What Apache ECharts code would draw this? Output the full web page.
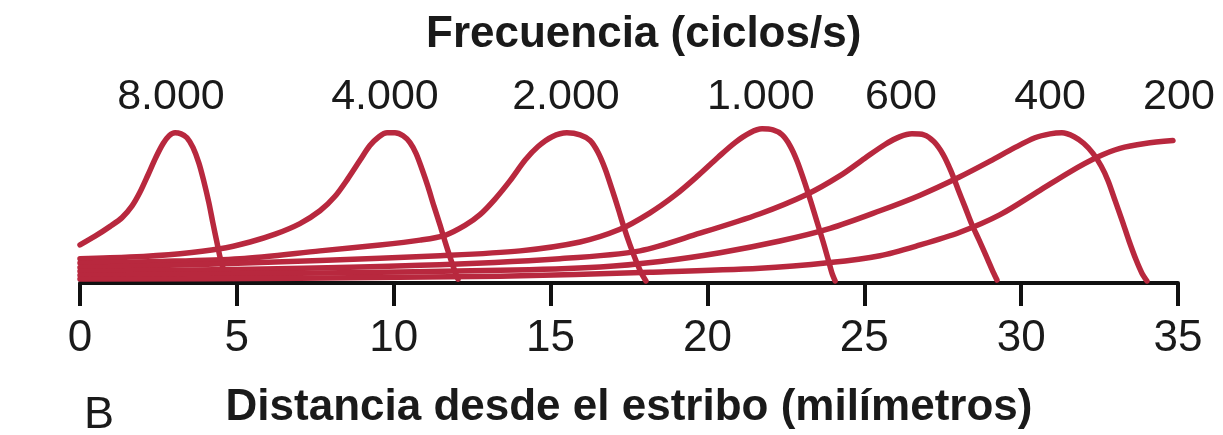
<!DOCTYPE html>
<html>
<head>
<meta charset="utf-8">
<script src="https://cdn.jsdelivr.net/npm/echarts@6/dist/echarts.min.js"></script>
<style>
html,body{margin:0;padding:0;background:#fff;}
#chart{width:1223px;height:435px;}
</style>
</head>
<body>
<div id="chart"></div>
<script>
// x = distance from stapes (mm), y = relative vibration amplitude
const curve8000 = [[0,24.4],[0.48,30],[0.96,36.3],[1.34,41.9],[1.66,49.4],[1.91,58.1],[2.17,69.4],[2.42,80.6],[2.65,89.4],[2.84,94.4],[3.03,96.3],[3.22,95.6],[3.41,93.1],[3.60,86.9],[3.79,76.9],[3.95,65],[4.11,51.3],[4.24,38.1],[4.37,25.6],[4.46,16.9],[4.56,9.4],[4.65,3.1]];
const curve4000 = [[0,15.6],[1.59,16.6],[3.19,18.8],[4.46,21.9],[5.42,26.3],[6.22,31.3],[7.01,38.1],[7.65,46.3],[8.13,55.6],[8.54,66.9],[8.93,78.8],[9.24,88.1],[9.53,93.8],[9.79,96.3],[10.04,96.3],[10.3,94.4],[10.52,90],[10.71,83.1],[10.9,73.1],[11.09,61.9],[11.28,49.4],[11.48,36.9],[11.64,26.3],[11.79,16.9],[11.95,7.5],[12.05,2.5]];
const curve2000 = [[0,12.8],[2.55,13.8],[5.1,15.6],[7.65,20.6],[9.56,24.4],[10.84,27.5],[11.64,30.6],[12.27,36.9],[12.75,43.8],[13.23,53.8],[13.71,65.6],[14.19,78.8],[14.6,87.5],[15.05,93.8],[15.52,96.3],[15.94,95],[16.26,91.3],[16.51,83.8],[16.74,73.1],[16.96,60],[17.15,48.1],[17.34,35.6],[17.53,24.4],[17.72,14.4],[17.88,6.9],[18.04,1.3]];
const curve1000 = [[0,10],[3.83,11.9],[7.65,14.4],[11.48,17.5],[14.03,20.6],[15.94,26.3],[17.21,34.4],[18.17,45],[18.97,56.3],[19.7,68.8],[20.34,80.6],[20.88,90],[21.36,96.3],[21.74,98.8],[22.09,98.1],[22.38,95],[22.63,88.1],[22.86,78.1],[23.08,65.6],[23.3,51.9],[23.49,39.4],[23.69,26.3],[23.85,15],[23.97,6.3],[24.07,1.3]];
const curve600 = [[0,7.5],[5.42,8.8],[10.84,11.3],[15.3,15.6],[17.85,20.6],[19.76,31.9],[21.68,44.4],[23.18,56.9],[24.23,68.8],[25.02,80],[25.66,88.8],[26.14,93.8],[26.52,95.6],[26.9,95],[27.22,90.6],[27.51,82.5],[27.76,71.9],[27.99,60],[28.21,48.8],[28.43,37.5],[28.66,27.5],[28.88,17.5],[29.07,8.8],[29.23,1.9]];
const curve400 = [[0,5],[7.01,6.3],[13.39,8.1],[16.58,10.3],[18.49,13.8],[20.4,19.4],[22.31,26.9],[23.91,35],[25.5,46.3],[26.78,56.3],[28.05,68.1],[29.01,78.1],[29.81,86.9],[30.44,93.1],[30.92,95.6],[31.3,96.3],[31.69,93.8],[32.0,89.4],[32.29,83.1],[32.55,75],[32.77,65.6],[32.99,53.1],[33.22,40],[33.44,26.9],[33.66,15],[33.85,6.3],[34.01,1.3]];
const curve200 = [[0,2.5],[7.01,3.1],[13.39,4.4],[18.17,6.9],[21.68,9.4],[23.91,13.1],[25.5,17.5],[26.78,24.4],[28.05,32.5],[29.33,43.8],[30.6,59.4],[31.56,71.3],[32.42,80.6],[33.15,86.3],[33.95,89.4],[34.84,91.3]];

const curves = [curve8000, curve4000, curve2000, curve1000, curve600, curve400, curve200];
const freqLabels = ['8.000','4.000','2.000','1.000','600','400','200'];
const freqLabelX = [2.9, 9.72, 15.49, 21.7, 26.17, 30.92, 35.03];
const freqLabelY = 119;
const xTicks = [0, 5, 10, 15, 20, 25, 30, 35];

const RED = '#b8283e';
const FONT = 'Liberation Sans, Arial, Helvetica, sans-serif';

const chart = echarts.init(document.getElementById('chart'), null, {renderer:'canvas'});

const lineSeries = curves.map((c, i) => ({
  type: 'line',
  name: freqLabels[i],
  data: c,
  smooth: 0.3,
  symbol: 'none',
  clip: false,
  lineStyle: {color: RED, width: 5.5, cap: 'round', join: 'round'},
  z: 3
}));

const option = {
  animation: false,
  backgroundColor: '#fff',
  textStyle: {fontFamily: FONT},
  title: [
    {text: 'Frecuencia (ciclos/s)', left: 421, top: 8,
     textStyle: {fontFamily: FONT, fontSize: 44, fontWeight: 'bold', color: '#1a1a1a'}},
    {text: 'B', left: 79, top: 388,
     textStyle: {fontFamily: FONT, fontSize: 45, fontWeight: 'normal', color: '#1a1a1a'}}
  ],
  grid: {left: 80, right: 45, top: 49, bottom: 146, containLabel: false},
  xAxis: {
    type: 'value',
    min: xTicks[0], max: xTicks[xTicks.length - 1], interval: 5,
    name: 'Distancia desde el estribo (milímetros)',
    nameLocation: 'middle',
    nameGap: 103,
    nameTextStyle: {fontFamily: FONT, fontSize: 44, fontWeight: 'bold', color: '#1a1a1a'},
    axisLine: {show: true, lineStyle: {color: '#111', width: 4}},
    axisTick: {show: true, length: 23, lineStyle: {color: '#111', width: 4}},
    axisLabel: {fontFamily: FONT, fontSize: 44, color: '#1a1a1a', margin: 34},
    splitLine: {show: false}
  },
  yAxis: {
    type: 'value', min: 0, max: 150, show: false,
    splitLine: {show: false}
  },
  series: lineSeries.concat([{
    type: 'scatter',
    silent: true,
    symbol: 'circle',
    symbolSize: 1,
    itemStyle: {color: 'rgba(0,0,0,0)', opacity: 1},
    clip: false,
    data: freqLabelX.map((x, i) => ({value: [x, freqLabelY], name: freqLabels[i]})),
    label: {
      show: true, position: 'inside',
      formatter: p => p.name,
      fontFamily: FONT, fontSize: 43, color: '#1a1a1a', opacity: 1
    },
    z: 4
  }])
};
chart.setOption(option);
</script>
</body>
</html>
